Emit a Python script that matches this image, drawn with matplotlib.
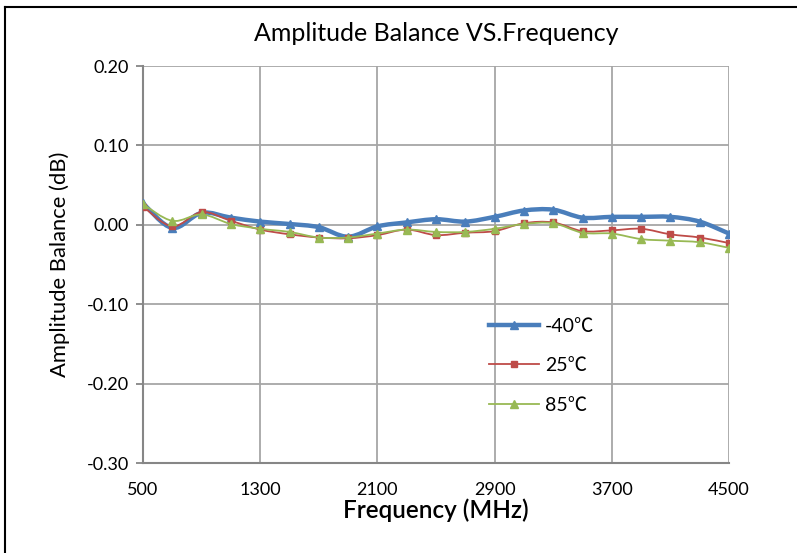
import matplotlib
matplotlib.use('Agg')
import matplotlib.pyplot as plt
import numpy as np
from matplotlib.path import Path
from matplotlib.patches import PathPatch
from matplotlib.lines import Line2D

plt.rcParams['font.family'] = ['Lato', 'Noto Sans CJK TC', 'DejaVu Sans']

# frequency points (MHz)
freq = [500, 700, 900, 1100, 1300, 1500, 1700, 1900, 2100, 2300, 2500,
        2700, 2900, 3100, 3300, 3500, 3700, 3900, 4100, 4300, 4500]

# amplitude balance (dB) per temperature
bal_m40 = [0.027, -0.004, 0.015, 0.009, 0.004, 0.001, -0.003, -0.015, -0.002, 0.003, 0.007,
           0.004, 0.010, 0.018, 0.019, 0.009, 0.010, 0.010, 0.010, 0.004, -0.011]
bal_25 = [0.023, -0.002, 0.016, 0.005, -0.006, -0.012, -0.016, -0.017, -0.013, -0.006, -0.013,
          -0.010, -0.008, 0.002, 0.003, -0.008, -0.007, -0.005, -0.012, -0.016, -0.023]
bal_85 = [0.026, 0.005, 0.013, 0.001, -0.005, -0.009, -0.016, -0.016, -0.011, -0.006, -0.009,
          -0.009, -0.005, 0.001, 0.002, -0.010, -0.011, -0.018, -0.020, -0.022, -0.029]

labels = ['-40\u2103', '25\u2103', '85\u2103']
colors = ['#4A7EBB', '#BE4B48', '#98B954']


def smooth_path(x, y):
    # Catmull-Rom style bezier through the points, like Excel's smoothed line
    x = np.asarray(x, float)
    y = np.asarray(y, float)
    verts = [(x[0], y[0])]
    codes = [Path.MOVETO]
    n = len(x)
    for i in range(n - 1):
        p0 = (x[max(i - 1, 0)], y[max(i - 1, 0)])
        p1 = (x[i], y[i])
        p2 = (x[i + 1], y[i + 1])
        p3 = (x[min(i + 2, n - 1)], y[min(i + 2, n - 1)])
        c1 = (p1[0] + (p2[0] - p0[0]) / 6, p1[1] + (p2[1] - p0[1]) / 6)
        c2 = (p2[0] - (p3[0] - p1[0]) / 6, p2[1] - (p3[1] - p1[1]) / 6)
        verts += [c1, c2, p2]
        codes += [Path.CURVE4] * 3
    return Path(verts, codes)


fig = plt.figure(figsize=(7.97, 5.53), dpi=100)
ax = fig.add_axes([143 / 797, 1 - 463 / 553, 586 / 797, 397 / 553])

series = [bal_m40, bal_25, bal_85]
widths = [3.2, 1.3, 1.3]
markers = ['^', 's', '^']
msizes = [6, 4.5, 6]
zorders = [3, 4, 5]

handles = []
for vals, lab, c, lw, m, ms, z in zip(series, labels, colors, widths, markers, msizes, zorders):
    patch = PathPatch(smooth_path(freq, vals), facecolor='none', edgecolor=c,
                      lw=lw, zorder=z, capstyle='round', joinstyle='round')
    ax.add_patch(patch)
    ax.plot(freq, vals, linestyle='none', marker=m, color=c, markersize=ms, zorder=z)
    handles.append(Line2D([], [], color=c, lw=lw, marker=m, markersize=ms))

ax.set_xlim(500, 4500)
ax.set_ylim(-0.30, 0.20)
ax.set_xticks(np.arange(500, 4501, 800))
ax.set_yticks(np.arange(-0.30, 0.201, 0.10))
ax.set_yticklabels(['%.2f' % v for v in np.arange(-0.30, 0.201, 0.10)])
ax.grid(True, color='#A6A6A6', lw=1.3)
ax.set_axisbelow(True)
for s in ['top', 'right']:
    ax.spines[s].set_visible(False)
for s in ['left', 'bottom']:
    ax.spines[s].set_color('#868686')
    ax.spines[s].set_linewidth(1.5)
ax.tick_params(axis='y', length=5, width=1.3, color='#868686', labelsize=13, pad=5)
ax.tick_params(axis='x', length=0, labelsize=13, pad=14)

ax.set_xlabel('Frequency (MHz)', fontsize=17.5, fontweight='semibold', labelpad=0)
ax.set_ylabel('Amplitude Balance (dB)', fontsize=15.8, labelpad=12)
ax.set_title('Amplitude Balance VS.Frequency', fontsize=18, pad=18)

ax.legend(handles, labels, loc='center left', bbox_to_anchor=(0.56, 0.245),
          frameon=False, fontsize=14, handlelength=2.6, labelspacing=1.15,
          handletextpad=0.3)

# outer chart border (top and left edges visible)
fig.add_artist(Line2D([5 / 797, 5 / 797], [0, 1 - 7 / 553], color='black', lw=1.5))
fig.add_artist(Line2D([5 / 797, 1], [1 - 7 / 553, 1 - 7 / 553], color='black', lw=1.5))

fig.savefig('out.png', dpi=100)
